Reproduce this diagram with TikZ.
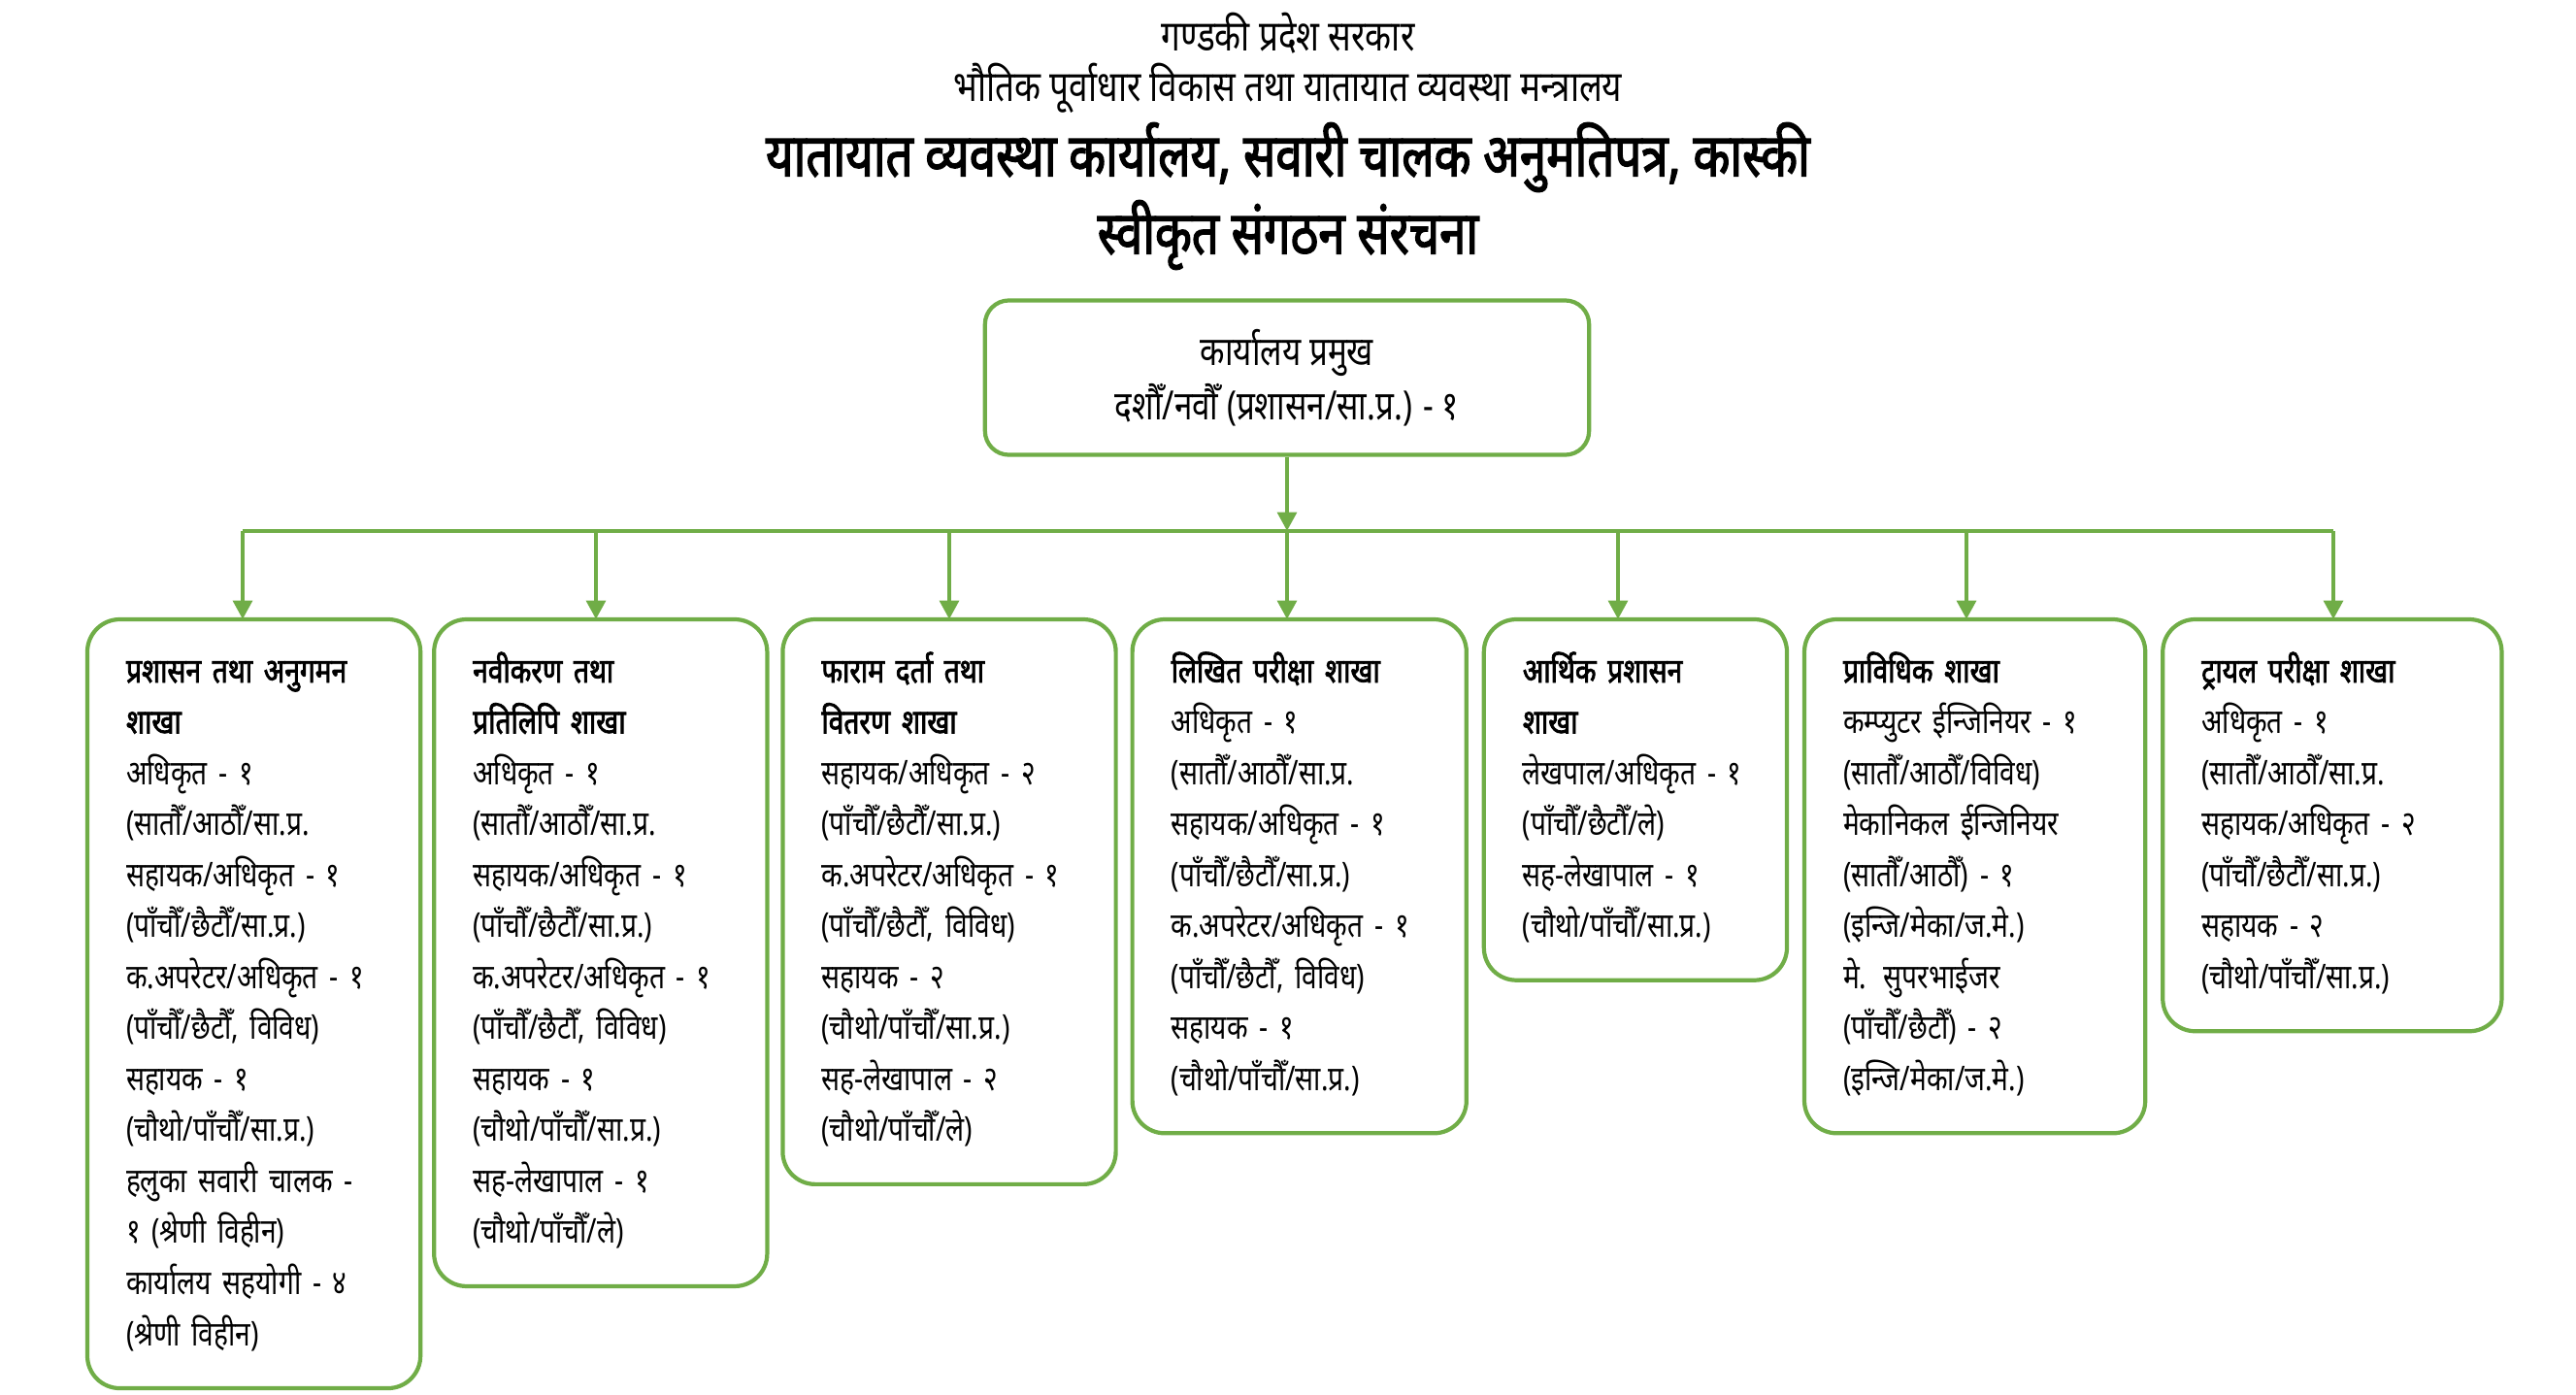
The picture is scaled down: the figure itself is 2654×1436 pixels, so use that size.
\documentclass[tikz,border=0pt]{standalone}
\usepackage{fontspec}
\newfontfamily\deva[Script=Devanagari,FakeStretch=0.8,
  BoldFont={Noto Sans},BoldFeatures={FakeBold=2.2}]{Noto Sans}
\usepackage{xcolor}
\usepackage{tikz}
\usetikzlibrary{positioning}
\usetikzlibrary{arrows.meta}
\definecolor{org_green}{RGB}{112, 173, 71}

\begin{document}
\begin{tikzpicture}[
    x=0.01cm, y=-0.01cm,
    font=\deva,
    title/.style={font=\deva\fontsize{12.5}{15}\selectfont, inner sep=0pt},
    bigtitle/.style={font=\deva\bfseries\fontsize{17.5}{21}\selectfont,
                     inner sep=0pt},
    chief/.style={draw=org_green, line width=1.2pt, rounded corners=7pt,
                  minimum width=6.22cm, minimum height=1.59cm, align=center,
                  font=\deva\fontsize{11.8}{16}\selectfont},
    branch/.style={draw=org_green, line width=1.2pt, rounded corners=9.5pt,
                   anchor=north west, align=left, inner xsep=0.4cm,
                   inner ysep=9pt, outer sep=0pt,
                   font=\deva\fontsize{10}{14.94}\selectfont,
                   execute at begin node={\rule{0pt}{9.5pt}},
                   execute at end node={\rule[-3.5pt]{0pt}{0pt}}},
    link/.style={draw=org_green, line width=1.4pt},
    >={Triangle[width=5.5pt,length=5.5pt]}]
    \useasboundingbox (0,0) rectangle (2654,1436);
    % headings
    \node[title] (gov) at (1327,34) {गण्डकी प्रदेश सरकार};
    \node[title] (ministry) at (1327,91)
      {भौतिक पूर्वाधार विकास तथा यातायात व्यवस्था मन्त्रालय};
    \node[bigtitle] (office) at (1327,162)
      {यातायात व्यवस्था कार्यालय, सवारी चालक अनुमतिपत्र, कास्की};
    \node[bigtitle] (approved) at (1327,242) {स्वीकृत संगठन संरचना};
    % office chief
    \node[chief] (head) at (1326,389)
      {कार्यालय प्रमुख\\ दशौँ/नवौँ (प्रशासन/सा.प्र.) - १};
    % branches
    \node[branch, text width=2.63cm] (b1) at (90,638)
      {\textbf{प्रशासन तथा अनुगमन}\\ \textbf{शाखा}\\ अधिकृत - १\\
       (सातौँ/आठौँ/सा.प्र.\\ सहायक/अधिकृत - १\\ (पाँचौँ/छैटौँ/सा.प्र.)\\
       क.अपरेटर/अधिकृत - १\\ (पाँचौँ/छैटौँ, विविध)\\ सहायक - १\\
       (चौथो/पाँचौँ/सा.प्र.)\\ हलुका सवारी चालक -\\ १ (श्रेणी विहीन)\\
       कार्यालय सहयोगी - ४\\ (श्रेणी विहीन)};
    \node[branch, text width=2.63cm, right=0.14cm of b1.north east,
          anchor=north west] (b2)
      {\textbf{नवीकरण तथा}\\ \textbf{प्रतिलिपि शाखा}\\ अधिकृत - १\\
       (सातौँ/आठौँ/सा.प्र.\\ सहायक/अधिकृत - १\\ (पाँचौँ/छैटौँ/सा.प्र.)\\
       क.अपरेटर/अधिकृत - १\\ (पाँचौँ/छैटौँ, विविध)\\ सहायक - १\\
       (चौथो/पाँचौँ/सा.प्र.)\\ सह-लेखापाल - १\\ (चौथो/पाँचौँ/ले)};
    \node[branch, text width=2.63cm, right=0.16cm of b2.north east,
          anchor=north west] (b3)
      {\textbf{फाराम दर्ता तथा}\\ \textbf{वितरण शाखा}\\ सहायक/अधिकृत - २\\
       (पाँचौँ/छैटौँ/सा.प्र.)\\ क.अपरेटर/अधिकृत - १\\
       (पाँचौँ/छैटौँ, विविध)\\ सहायक - २\\ (चौथो/पाँचौँ/सा.प्र.)\\
       सह-लेखापाल - २\\ (चौथो/पाँचौँ/ले)};
    \node[branch, text width=2.64cm, right=0.17cm of b3.north east,
          anchor=north west] (b4)
      {\textbf{लिखित परीक्षा शाखा}\\ अधिकृत - १\\ (सातौँ/आठौँ/सा.प्र.\\
       सहायक/अधिकृत - १\\ (पाँचौँ/छैटौँ/सा.प्र.)\\ क.अपरेटर/अधिकृत - १\\
       (पाँचौँ/छैटौँ, विविध)\\ सहायक - १\\ (चौथो/पाँचौँ/सा.प्र.)};
    \node[branch, text width=2.32cm, right=0.18cm of b4.north east,
          anchor=north west] (b5)
      {\textbf{आर्थिक प्रशासन}\\ \textbf{शाखा}\\ लेखपाल/अधिकृत - १\\
       (पाँचौँ/छैटौँ/ले)\\ सह-लेखापाल - १\\ (चौथो/पाँचौँ/सा.प्र.)};
    \node[branch, text width=2.71cm, right=0.18cm of b5.north east,
          anchor=north west] (b6)
      {\textbf{प्राविधिक शाखा}\\ कम्प्युटर ईन्जिनियर - १\\
       (सातौँ/आठौँ/विविध)\\ मेकानिकल ईन्जिनियर\\ (सातौँ/आठौँ) - १\\
       (इन्जि/मेका/ज.मे.)\\ मे. सुपरभाईजर\\ (पाँचौँ/छैटौँ) - २\\
       (इन्जि/मेका/ज.मे.)};
    \node[branch, text width=2.69cm, right=0.18cm of b6.north east,
          anchor=north west] (b7)
      {\textbf{ट्रायल परीक्षा शाखा}\\ अधिकृत - १\\ (सातौँ/आठौँ/सा.प्र.\\
       सहायक/अधिकृत - २\\ (पाँचौँ/छैटौँ/सा.प्र.)\\ सहायक - २\\
       (चौथो/पाँचौँ/सा.प्र.)};
    % bus line and arrows
    \coordinate (t1) at (250,547);
    \coordinate (t2) at (614,547);
    \coordinate (t3) at (978,547);
    \coordinate (t4) at (1326,547);
    \coordinate (t5) at (1667,547);
    \coordinate (t6) at (2026,547);
    \coordinate (t7) at (2404,547);
    \draw[link] (t1) -- (t7);
    \draw[link, ->] (head) -- (t4);
    \foreach \i in {1,...,7}
      \draw[link, ->] (t\i) -- (t\i |- b\i.north);
\end{tikzpicture}
\end{document}
